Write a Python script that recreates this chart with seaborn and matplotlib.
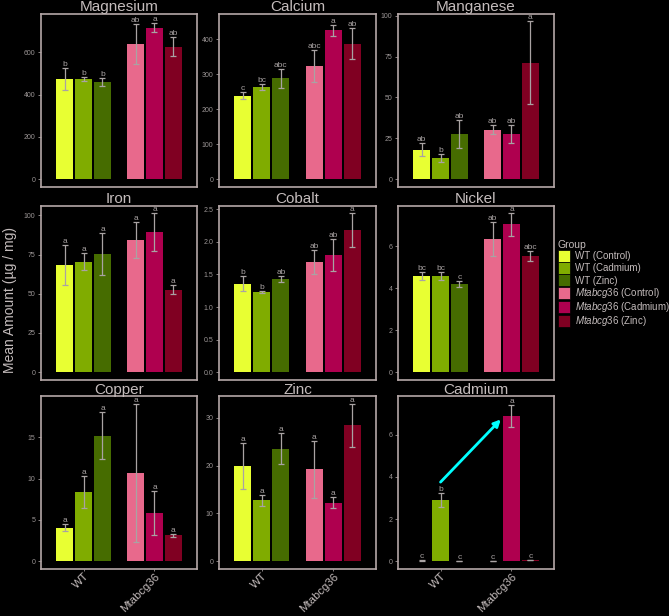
import numpy as np
import pandas as pd
import matplotlib
matplotlib.use('Agg')
import matplotlib.pyplot as plt
import matplotlib.patches as mpatches
from matplotlib.ticker import MultipleLocator, FormatStrFormatter
import seaborn as sns

GENOTYPES = ['WT', 'Mtabcg36']
TREATMENTS = ['Control', 'Cadmium', 'Zinc']
GROUP_LABELS = ['WT (Control)', 'WT (Cadmium)', 'WT (Zinc)',
                r'$\mathit{Mtabcg36}$ (Control)', r'$\mathit{Mtabcg36}$ (Cadmium)',
                r'$\mathit{Mtabcg36}$ (Zinc)']
COLORS = ['#E8FF33', '#80AC00', '#466C00', '#E8698C', '#AF004F', '#800022']

# order in every list: WT Control, WT Cadmium, WT Zinc, Mt Control, Mt Cadmium, Mt Zinc
MAGNESIUM_MEAN = [474, 474, 459, 639, 718, 627]
MAGNESIUM_SE = [51, 8, 20, 96, 22, 44]
MAGNESIUM_LETTERS = ['b', 'b', 'b', 'ab', 'a', 'ab']

CALCIUM_MEAN = [239, 263, 288, 323, 426, 387]
CALCIUM_SE = [11, 8.5, 26.5, 45, 16, 44.5]
CALCIUM_LETTERS = ['c', 'bc', 'abc', 'abc', 'a', 'ab']

MANGANESE_MEAN = [18.1, 13.2, 27.6, 30.4, 27.8, 71.2]
MANGANESE_SE = [3.8, 2.5, 8.5, 2.7, 5.5, 25.5]
MANGANESE_LETTERS = ['ab', 'b', 'ab', 'ab', 'ab', 'a']

IRON_MEAN = [68.4, 70.4, 75.5, 84.4, 89.3, 52.7]
IRON_SE = [12.8, 5.5, 13.4, 11.5, 12.0, 3.0]
IRON_LETTERS = ['a', 'a', 'a', 'a', 'a', 'a']

COBALT_MEAN = [1.36, 1.23, 1.43, 1.69, 1.80, 2.18]
COBALT_SE = [0.11, 0.015, 0.05, 0.19, 0.25, 0.26]
COBALT_LETTERS = ['b', 'b', 'ab', 'ab', 'ab', 'a']

NICKEL_MEAN = [4.58, 4.60, 4.20, 6.37, 7.05, 5.54]
NICKEL_SE = [0.19, 0.19, 0.15, 0.81, 0.53, 0.23]
NICKEL_LETTERS = ['bc', 'bc', 'c', 'ab', 'a', 'abc']

COPPER_MEAN = [4.05, 8.34, 15.16, 10.71, 5.82, 3.13]
COPPER_SE = [0.4, 1.93, 2.83, 8.34, 2.67, 0.2]
COPPER_LETTERS = ['a', 'a', 'a', 'a', 'a', 'a']

ZINC_MEAN = [19.96, 12.75, 23.6, 19.27, 12.27, 28.48]
ZINC_SE = [4.75, 1.1, 3.2, 5.96, 1.1, 4.5]
ZINC_LETTERS = ['a', 'a', 'a', 'a', 'a', 'a']

CADMIUM_MEAN = [0.03, 2.90, 0.02, 0.02, 6.89, 0.05]
CADMIUM_SE = [0.01, 0.33, 0.01, 0.01, 0.53, 0.01]
CADMIUM_LETTERS = ['c', 'b', 'c', 'c', 'a', 'c']

PANELS = [
    ('Magnesium', MAGNESIUM_MEAN, MAGNESIUM_SE, MAGNESIUM_LETTERS),
    ('Calcium', CALCIUM_MEAN, CALCIUM_SE, CALCIUM_LETTERS),
    ('Manganese', MANGANESE_MEAN, MANGANESE_SE, MANGANESE_LETTERS),
    ('Iron', IRON_MEAN, IRON_SE, IRON_LETTERS),
    ('Cobalt', COBALT_MEAN, COBALT_SE, COBALT_LETTERS),
    ('Nickel', NICKEL_MEAN, NICKEL_SE, NICKEL_LETTERS),
    ('Copper', COPPER_MEAN, COPPER_SE, COPPER_LETTERS),
    ('Zinc', ZINC_MEAN, ZINC_SE, ZINC_LETTERS),
    ('Cadmium', CADMIUM_MEAN, CADMIUM_SE, CADMIUM_LETTERS),
]
Y_TOP = [782, 472, 101, 106, 2.55, 7.93, 19.98, 34.6, 7.83]
Y_STEP = [200, 100, 25, 25, 0.5, 2, 5, 10, 2]

# cyan arrow in the Cadmium panel (data coords)
ARROW_FROM = (0.0, 3.75)
ARROW_TO = (0.85, 6.72)

FRAME = '#B5A7A7'
TEXT = '#C4BCBC'
TICK = '#9C9696'
ERR = '#A9A3A3'

W, H = 669, 616
COL_X = [(41, 197), (219, 376), (398, 554)]
ROW_Y = [(14, 187), (206, 380), (396, 569)]


def main():
    sns.set_style('dark')
    plt.rcParams['font.family'] = ['Liberation Sans', 'DejaVu Sans']
    plt.rcParams['mathtext.fontset'] = 'custom'
    plt.rcParams['mathtext.it'] = 'Liberation Sans:italic'
    plt.rcParams['mathtext.rm'] = 'Liberation Sans'

    fig = plt.figure(figsize=(W / 100, H / 100), dpi=100, facecolor='black')

    for i, (name, means, ses, letters) in enumerate(PANELS):
        r, c = divmod(i, 3)
        x0, x1 = COL_X[c]
        y0, y1 = ROW_Y[r]
        ax = fig.add_axes([x0 / W, 1 - y1 / H, (x1 - x0) / W, (y1 - y0) / H])
        ax.set_facecolor('black')

        df = pd.DataFrame({
            'genotype': np.repeat(GENOTYPES, 3),
            'treatment': TREATMENTS * 2,
            'value': means,
        })
        sns.barplot(data=df, x='genotype', y='value', hue='treatment',
                    order=GENOTYPES, hue_order=TREATMENTS, width=0.8, gap=0.1,
                    errorbar=None, legend=False, linewidth=0, ax=ax)

        conts = list(ax.containers)
        for t, cont in enumerate(conts):
            for g, bar in enumerate(cont):
                k = g * 3 + t
                bar.set_facecolor(COLORS[k])
                xc = bar.get_x() + bar.get_width() / 2
                ax.errorbar(xc, means[k], yerr=ses[k], color=ERR, capsize=2.2,
                            lw=0.9, capthick=0.9)
                ax.text(xc, means[k] + ses[k], letters[k], ha='center', va='bottom',
                        fontsize=6, color=ERR)

        top = Y_TOP[i]
        ax.set_ylim(-0.047 * top, top)
        ax.set_xlim(-0.6, 1.6)
        ax.yaxis.set_major_locator(MultipleLocator(Y_STEP[i]))
        if name == 'Cobalt':
            ax.yaxis.set_major_formatter(FormatStrFormatter('%.1f'))
        else:
            ax.yaxis.set_major_formatter(FormatStrFormatter('%d'))
        ax.tick_params(axis='y', colors=TICK, labelsize=5, length=2, width=0.6, pad=2,
                       left=True)
        ax.set_xlabel('')
        ax.set_ylabel('')
        ax.grid(False)
        for sp in ax.spines.values():
            sp.set_visible(True)
            sp.set_color(FRAME)
            sp.set_linewidth(1.2)
        ax.set_title(name, color=TEXT, fontsize=11, pad=1.5)

        if r == 2:
            ax.tick_params(axis='x', colors=TICK, length=1.5, width=0.6, bottom=True, pad=0)
            ax.set_xticklabels(GENOTYPES, rotation=45, ha='right', va='top',
                               rotation_mode='anchor', fontsize=8.2, color=TEXT)
        else:
            ax.set_xticks([])

        if name == 'Cadmium':
            ax.annotate('', xy=ARROW_TO, xytext=ARROW_FROM,
                        arrowprops=dict(arrowstyle='-|>', color='#00FFFF', lw=2,
                                        mutation_scale=10, shrinkA=0, shrinkB=0))

    fig.text(10 / W, 1 - 300 / H, 'Mean Amount (µg / mg)', rotation=90, ha='center',
             va='center', fontsize=10, color=TEXT)

    handles = [mpatches.Patch(facecolor=col, edgecolor='black', linewidth=0.5) for col in COLORS]
    leg = fig.legend(handles, GROUP_LABELS, loc='upper left',
                     bbox_to_anchor=(553 / W, 1 - 235 / H), frameon=False,
                     title='Group', fontsize=7, title_fontsize=7.5,
                     handlelength=1.2, handleheight=1.55, labelspacing=0,
                     handletextpad=0.55, borderpad=0, alignment='left')
    leg.get_title().set_color(TEXT)
    for txt in leg.get_texts():
        txt.set_color(TEXT)

    plt.savefig('out.png', dpi=100, facecolor='black')


if __name__ == '__main__':
    main()
